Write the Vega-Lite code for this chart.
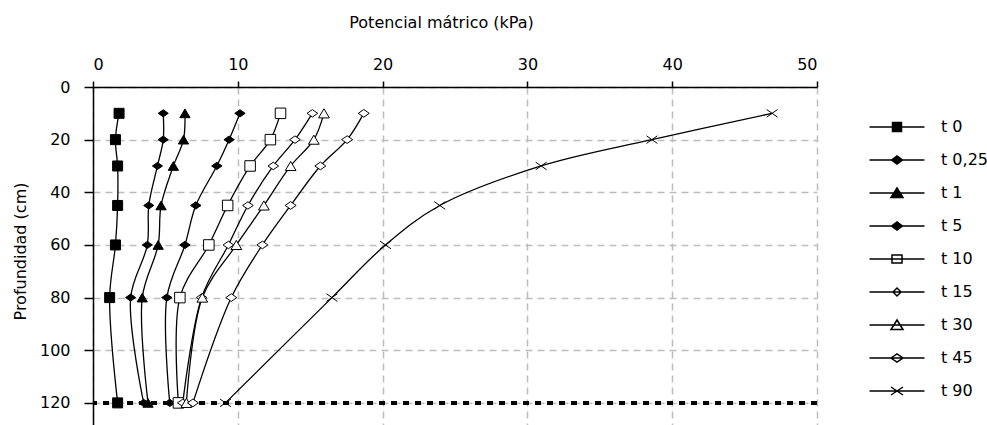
{
  "$schema": "https://vega.github.io/schema/vega-lite/v6.json",
  "width": 724,
  "height": 338,
  "autosize": {"type": "none"},
  "padding": {"left": 93, "top": 87, "right": 170, "bottom": 0},
  "background": "white",
  "config": {
    "font": "DejaVu Sans",
    "view": {"stroke": null},
    "axis": {
      "grid": true,
      "gridColor": "#bdbdbd",
      "gridDash": [7, 5],
      "gridWidth": 1.5,
      "domainColor": "black",
      "domainWidth": 1.5,
      "tickColor": "black",
      "tickWidth": 1.5,
      "labelFontSize": 16,
      "labelColor": "black",
      "titleFontSize": 16,
      "titleFontWeight": "normal",
      "titleColor": "black"
    }
  },
  "data": {
    "values": [
      {"serie": "t 0", "prof": 10, "pot": 1.8},
      {"serie": "t 0", "prof": 20, "pot": 1.55},
      {"serie": "t 0", "prof": 30, "pot": 1.7},
      {"serie": "t 0", "prof": 45, "pot": 1.7},
      {"serie": "t 0", "prof": 60, "pot": 1.55},
      {"serie": "t 0", "prof": 80, "pot": 1.15},
      {"serie": "t 0", "prof": 120, "pot": 1.7},
      {"serie": "t 0,25", "prof": 10, "pot": 4.85},
      {"serie": "t 0,25", "prof": 20, "pot": 4.85},
      {"serie": "t 0,25", "prof": 30, "pot": 4.45},
      {"serie": "t 0,25", "prof": 45, "pot": 3.85},
      {"serie": "t 0,25", "prof": 60, "pot": 3.75},
      {"serie": "t 0,25", "prof": 80, "pot": 2.6},
      {"serie": "t 0,25", "prof": 120, "pot": 3.5},
      {"serie": "t 1", "prof": 10, "pot": 6.35},
      {"serie": "t 1", "prof": 20, "pot": 6.25},
      {"serie": "t 1", "prof": 30, "pot": 5.55},
      {"serie": "t 1", "prof": 45, "pot": 4.7},
      {"serie": "t 1", "prof": 60, "pot": 4.5},
      {"serie": "t 1", "prof": 80, "pot": 3.4},
      {"serie": "t 1", "prof": 120, "pot": 3.8},
      {"serie": "t 5", "prof": 10, "pot": 10.15},
      {"serie": "t 5", "prof": 20, "pot": 9.4},
      {"serie": "t 5", "prof": 30, "pot": 8.55},
      {"serie": "t 5", "prof": 45, "pot": 7.1},
      {"serie": "t 5", "prof": 60, "pot": 6.35},
      {"serie": "t 5", "prof": 80, "pot": 5.1},
      {"serie": "t 5", "prof": 120, "pot": 5.3},
      {"serie": "t 10", "prof": 10, "pot": 12.95},
      {"serie": "t 10", "prof": 20, "pot": 12.25},
      {"serie": "t 10", "prof": 30, "pot": 10.85},
      {"serie": "t 10", "prof": 45, "pot": 9.3},
      {"serie": "t 10", "prof": 60, "pot": 8.0},
      {"serie": "t 10", "prof": 80, "pot": 6.0},
      {"serie": "t 10", "prof": 120, "pot": 5.9},
      {"serie": "t 15", "prof": 10, "pot": 15.15},
      {"serie": "t 15", "prof": 20, "pot": 13.95},
      {"serie": "t 15", "prof": 30, "pot": 12.45},
      {"serie": "t 15", "prof": 45, "pot": 10.7},
      {"serie": "t 15", "prof": 60, "pot": 9.35},
      {"serie": "t 15", "prof": 80, "pot": 7.5},
      {"serie": "t 15", "prof": 120, "pot": 6.2},
      {"serie": "t 30", "prof": 10, "pot": 15.95},
      {"serie": "t 30", "prof": 20, "pot": 15.25},
      {"serie": "t 30", "prof": 30, "pot": 13.65},
      {"serie": "t 30", "prof": 45, "pot": 11.8},
      {"serie": "t 30", "prof": 60, "pot": 9.9},
      {"serie": "t 30", "prof": 80, "pot": 7.55},
      {"serie": "t 30", "prof": 120, "pot": 6.45},
      {"serie": "t 45", "prof": 10, "pot": 18.7},
      {"serie": "t 45", "prof": 20, "pot": 17.55},
      {"serie": "t 45", "prof": 30, "pot": 15.7},
      {"serie": "t 45", "prof": 45, "pot": 13.65},
      {"serie": "t 45", "prof": 60, "pot": 11.7},
      {"serie": "t 45", "prof": 80, "pot": 9.55},
      {"serie": "t 45", "prof": 120, "pot": 6.9},
      {"serie": "t 90", "prof": 10, "pot": 46.9},
      {"serie": "t 90", "prof": 20, "pot": 38.6},
      {"serie": "t 90", "prof": 30, "pot": 30.95},
      {"serie": "t 90", "prof": 45, "pot": 23.95},
      {"serie": "t 90", "prof": 60, "pot": 20.2},
      {"serie": "t 90", "prof": 80, "pot": 16.5},
      {"serie": "t 90", "prof": 120, "pot": 9.15}
    ]
  },
  "resolve": {"scale": {"shape": "independent"}, "legend": {"shape": "independent"}},
  "layer": [
    {
      "mark": {"type": "line", "color": "black", "interpolate": "catmull-rom"},
      "encoding": {
        "x": {
          "field": "pot", "type": "quantitative",
          "scale": {"domain": [0, 50], "nice": false},
          "axis": {
            "orient": "top", "values": [0, 10, 20, 30, 40, 50],
            "title": "Potencial mátrico (kPa)",
            "tickSize": 6, "labelPadding": 9,
            "titleX": 348, "titleY": -65, "titleBaseline": "middle", "titleAlign": "center"
          }
        },
        "y": {
          "field": "prof", "type": "quantitative",
          "scale": {"domain": [0, 128.4], "nice": false, "reverse": true},
          "axis": {
            "orient": "left", "values": [0, 20, 40, 60, 80, 100, 120],
            "title": "Profundidad (cm)",
            "tickSize": 9, "labelPadding": 14,
            "titleX": -73, "titleY": 164, "titleAngle": -90, "titleBaseline": "middle", "titleAlign": "center"
          }
        },
        "detail": {"field": "serie"},
        "order": {"field": "prof", "type": "quantitative"},
        "strokeWidth": {
          "field": "serie", "type": "nominal", "legend": null,
          "scale": {
            "domain": ["t 90", "t 45", "t 30", "t 15", "t 10", "t 5", "t 1", "t 0,25", "t 0"],
            "range": [1.3, 1.3, 1.3, 1.3, 2, 2, 2, 2, 2]
          }
        }
      }
    },
    {
      "mark": {"type": "rule", "color": "black", "strokeWidth": 4, "strokeDash": [6, 6]},
      "encoding": {"y": {"datum": 120, "type": "quantitative"}}
    },
    {
      "mark": {"type": "point", "stroke": "black", "strokeWidth": 1, "opacity": 1},
      "encoding": {
        "x": {"field": "pot", "type": "quantitative"},
        "y": {"field": "prof", "type": "quantitative"},
        "shape": {
          "field": "serie", "type": "nominal", "legend": null,
          "scale": {
            "domain": ["t 0", "t 0,25", "t 1", "t 5", "t 10", "t 15", "t 30", "t 45", "t 90"],
            "range": ["square", "M-1,0L0,-0.7L1,0L0,0.7Z", "M0,-0.85L1,0.85H-1Z", "M-1,0L0,-0.7L1,0L0,0.7Z", "square", "M-1,0L0,-0.7L1,0L0,0.7Z", "M0,-0.85L1,0.85H-1Z", "M-1,0L0,-0.7L1,0L0,0.7Z", "M-1,-0.7L1,0.7M-1,0.7L1,-0.7"]
          }
        },
        "fill": {
          "field": "serie", "type": "nominal", "legend": null,
          "scale": {
            "domain": ["t 90", "t 45", "t 30", "t 15", "t 10", "t 5", "t 1", "t 0,25", "t 0"],
            "range": ["transparent", "white", "white", "white", "white", "black", "black", "black", "black"]
          }
        },
        "size": {
          "field": "serie", "type": "nominal", "legend": null,
          "scale": {
            "domain": ["t 45", "t 90", "t 30", "t 15", "t 10", "t 5", "t 1", "t 0,25", "t 0"],
            "range": [121, 100, 110, 90, 90, 144, 110, 144, 90]
          }
        }
      }
    },
    {
      "mark": {"type": "point", "stroke": "black", "opacity": 0},
      "encoding": {
        "x": {"field": "pot", "type": "quantitative"},
        "y": {"field": "prof", "type": "quantitative"},
        "shape": {
          "field": "serie", "type": "nominal",
          "scale": {
            "domain": ["t 0", "t 0,25", "t 1", "t 5", "t 10", "t 15", "t 30", "t 45", "t 90"],
            "range": ["M-5.5,0H5.5M-0.9,-0.9H0.9V0.9H-0.9Z", "M-5.5,0H5.5M-1.1,0L0,-0.8L1.1,0L0,0.8Z", "M-5.5,0H5.5M0,-1L1.2,0.9H-1.2Z", "M-5.5,0H5.5M-1.1,0L0,-0.8L1.1,0L0,0.8Z", "M-5.5,0H5.5M-1,-0.8H1V0.8H-1Z", "M-5.5,0H5.5M-0.8,0L0,-0.8L0.8,0L0,0.8Z", "M-5.5,0H5.5M0,-1L1.2,0.9H-1.2Z", "M-5.5,0H5.5M-1.2,0L0,-0.8L1.2,0L0,0.8Z", "M-5.5,0H5.5M-1.2,-0.8L1.2,0.8M-1.2,0.8L1.2,-0.8"]
          },
          "legend": {
            "title": null,
            "orient": "none",
            "legendX": 796,
            "legendY": 32,
            "padding": 0,
            "labelFontSize": 16,
            "labelColor": "black",
            "labelOffset": 36,
            "rowPadding": 17,
            "symbolSize": 100,
            "symbolOpacity": 1,
            "symbolStrokeWidth": 1.5,
            "symbolStrokeColor": "black",
            "encoding": {
              "symbols": {
                "fill": {"value": {"expr": "['black','black','black','black','white','white','white','white','transparent'][datum.index]"}},
                "size": {"value": 100},
                "stroke": {"value": "black"},
                "strokeWidth": {"value": 1.5},
                "opacity": {"value": 1}
              }
            }
          }
        }
      }
    }
  ]
}
